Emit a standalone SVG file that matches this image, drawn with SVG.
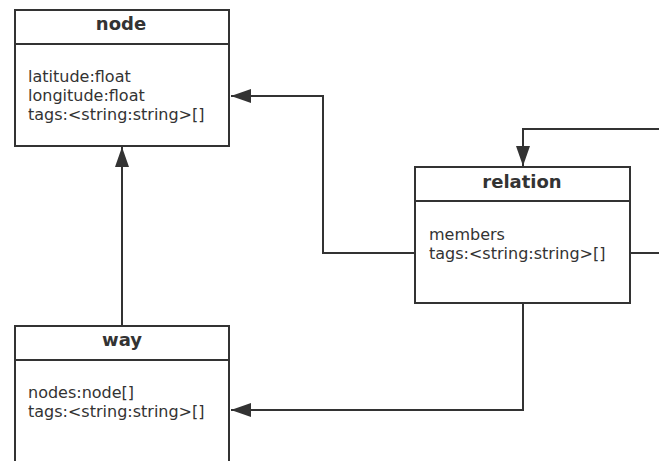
<svg xmlns="http://www.w3.org/2000/svg" width="659" height="461" viewBox="0 0 659 461">
<defs>
<style>
.box{fill:#fff;stroke:#333;stroke-width:2}
.sep{stroke:#333;stroke-width:2}
.title{font-family:"DejaVu Sans",sans-serif;font-weight:bold;font-size:18px;fill:#333;text-anchor:middle}
.attr{font-family:"DejaVu Sans",sans-serif;font-size:16px;fill:#333}
.conn{fill:none;stroke:#333;stroke-width:2}
</style>
<marker id="arr" markerUnits="userSpaceOnUse" markerWidth="22" markerHeight="16" refX="20" refY="7" orient="auto">
<path d="M0,0 L20,7 L0,14 Z" fill="#333"/>
</marker>
</defs>
<rect width="659" height="461" fill="#fff"/>
<g id="connectors">
<path class="conn" d="M122,326 V147" marker-end="url(#arr)"/>
<path class="conn" d="M415,253 H323 V96 H231" marker-end="url(#arr)"/>
<path class="conn" d="M523,303 V410 H231" marker-end="url(#arr)"/>
<path class="conn" d="M659,129 H523 V166" marker-end="url(#arr)"/>
<path class="conn" d="M630,253 H659"/>
</g>
<g id="node">
<rect class="box" x="15" y="10" width="214" height="136"/>
<line class="sep" x1="15" y1="44" x2="229" y2="44"/>
<text class="title" x="121" y="30">node</text>
<text class="attr" x="28" y="82">latitude:float</text>
<text class="attr" x="28" y="101">longitude:float</text>
<text class="attr" x="28" y="120">tags:&lt;string:string&gt;[]</text>
</g>
<g id="relation">
<rect class="box" x="415" y="167" width="215" height="136"/>
<line class="sep" x1="415" y1="201" x2="630" y2="201"/>
<text class="title" x="522" y="188">relation</text>
<text class="attr" x="429" y="240">members</text>
<text class="attr" x="429" y="259">tags:&lt;string:string&gt;[]</text>
</g>
<g id="way">
<rect class="box" x="15" y="326" width="214" height="150"/>
<line class="sep" x1="15" y1="360" x2="229" y2="360"/>
<text class="title" x="122" y="346">way</text>
<text class="attr" x="28" y="398">nodes:node[]</text>
<text class="attr" x="28" y="417">tags:&lt;string:string&gt;[]</text>
</g>
</svg>
